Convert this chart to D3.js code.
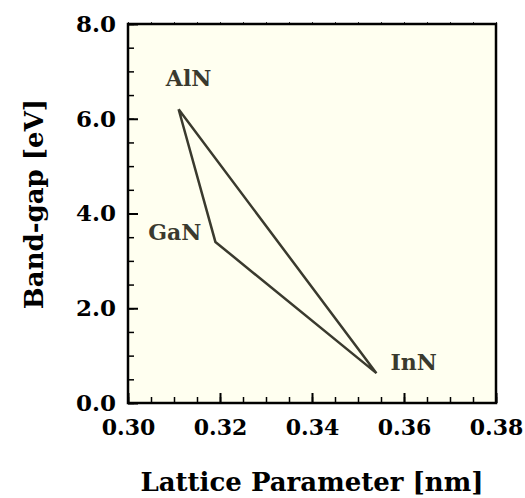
<!DOCTYPE html>
<html>
<head>
<meta charset="utf-8">
<script src="https://cdn.jsdelivr.net/npm/d3@7"></script>
<style>
  body { margin: 0; background: #ffffff; }
</style>
</head>
<body>
<div id="chart"></div>
<script>
// compounds and their lattice parameter / band gap
const compounds = ["AlN", "GaN", "InN"];
const latticeParam = [0.311, 0.319, 0.354];   // nm
const bandGap = [6.2, 3.4, 0.63];              // eV
// polygon order (closed triangle)
const pathOrder = ["AlN", "GaN", "InN", "AlN"];

const xTicks = [0.30, 0.32, 0.34, 0.36, 0.38];
const yTicks = [0.0, 2.0, 4.0, 6.0, 8.0];

const FONT = "'DejaVu Serif', 'Liberation Serif', serif";

const width = 525, height = 498;
const margin = { top: 24, right: 29, bottom: 95, left: 128 };
const innerW = width - margin.left - margin.right;
const innerH = height - margin.top - margin.bottom;

const svg = d3.select("#chart").append("svg")
    .attr("width", width)
    .attr("height", height);

const g = svg.append("g")
    .attr("transform", "translate(" + margin.left + "," + margin.top + ")");

const x = d3.scaleLinear().domain([0.30, 0.38]).range([0, innerW]);
const y = d3.scaleLinear().domain([0, 8]).range([innerH, 0]);

// plot background
g.append("rect")
    .attr("width", innerW)
    .attr("height", innerH)
    .attr("fill", "#fffff0");

// minor ticks
const xMinor = d3.range(0, 17).map(i => 0.30 + i * 0.005);
const yMinor = d3.range(0, 17).map(i => i * 0.5);

g.append("g")
    .attr("transform", "translate(0," + innerH + ")")
    .call(d3.axisTop(x).tickValues(xMinor).tickSize(6).tickFormat(""))
    .call(a => a.select(".domain").remove())
    .selectAll("line").attr("stroke", "#000").attr("stroke-width", 1.5);

g.append("g")
    .call(d3.axisRight(y).tickValues(yMinor).tickSize(6).tickFormat(""))
    .call(a => a.select(".domain").remove())
    .selectAll("line").attr("stroke", "#000").attr("stroke-width", 1.5);

// top minor marks (short, outward)
g.append("g")
    .call(d3.axisTop(x).tickValues(xMinor).tickSize(2).tickFormat(""))
    .call(a => a.select(".domain").remove())
    .selectAll("line").attr("stroke", "#333").attr("stroke-width", 1);

// x axis
const xAxis = g.append("g")
    .attr("transform", "translate(0," + innerH + ")")
    .call(d3.axisBottom(x).tickValues(xTicks).tickSizeInner(-10).tickSizeOuter(0)
        .tickPadding(16).tickFormat(d3.format(".2f")));
xAxis.select(".domain").remove();
xAxis.selectAll("line").attr("stroke", "#000").attr("stroke-width", 2);
xAxis.selectAll("text")
    .style("font-family", FONT).style("font-weight", "bold")
    .style("font-size", "22px").attr("fill", "#000");

// y axis
const yAxis = g.append("g")
    .call(d3.axisLeft(y).tickValues(yTicks).tickSizeInner(-10).tickSizeOuter(0)
        .tickPadding(12).tickFormat(d3.format(".1f")));
yAxis.select(".domain").remove();
yAxis.selectAll("line").attr("stroke", "#000").attr("stroke-width", 2);
yAxis.selectAll("text")
    .style("font-family", FONT).style("font-weight", "bold")
    .style("font-size", "23px").attr("fill", "#000");

// frame
g.append("rect")
    .attr("width", innerW)
    .attr("height", innerH)
    .attr("fill", "none")
    .attr("stroke", "#000")
    .attr("stroke-width", 2.5);

// triangle
const pts = pathOrder.map(n => {
    const i = compounds.indexOf(n);
    return [latticeParam[i], bandGap[i]];
});
g.append("path")
    .datum(pts)
    .attr("fill", "none")
    .attr("stroke", "#3a3a2e")
    .attr("stroke-width", 2.5)
    .attr("stroke-linejoin", "miter")
    .attr("d", d3.line().x(d => x(d[0])).y(d => y(d[1])));

// labels
const labelOffsets = { AlN: [10, -23, "middle"], GaN: [-14, -2, "end"], InN: [14, -3, "start"] };
g.selectAll(".lbl")
    .data(compounds)
    .enter().append("text")
    .attr("class", "lbl")
    .attr("x", (d, i) => x(latticeParam[i]) + labelOffsets[d][0])
    .attr("y", (d, i) => y(bandGap[i]) + labelOffsets[d][1])
    .attr("text-anchor", d => labelOffsets[d][2])
    .style("font-family", FONT).style("font-weight", "bold")
    .style("font-size", "22px")
    .attr("fill", "#3a3a2e")
    .text(d => d);

// axis titles
svg.append("text")
    .attr("x", margin.left + innerW / 2)
    .attr("y", 491)
    .attr("text-anchor", "middle")
    .style("font-family", FONT).style("font-weight", "bold")
    .style("font-size", "26px")
    .attr("fill", "#000")
    .text("Lattice Parameter [nm]");

svg.append("text")
    .attr("transform", "translate(43," + 204 + ") rotate(-90)")
    .attr("text-anchor", "middle")
    .style("font-family", FONT).style("font-weight", "bold")
    .style("font-size", "26px")
    .attr("fill", "#000")
    .text("Band-gap [eV]");
</script>
</body>
</html>
